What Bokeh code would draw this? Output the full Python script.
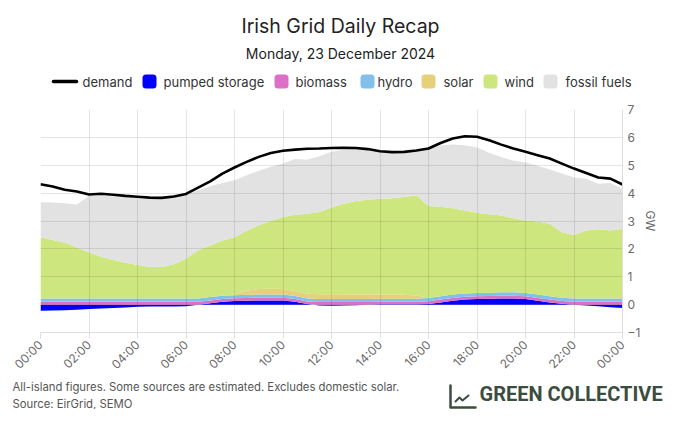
import numpy as np
from bokeh.plotting import figure
from bokeh.layouts import column
from bokeh.models import Range1d, FixedTicker, LinearAxis, Label
from bokeh.embed import file_html
from bokeh.resources import INLINE

# half-hourly timestamps, hours since midnight
hours = [i * 0.5 for i in range(49)]
tick_hours = [0, 2, 4, 6, 8, 10, 12, 14, 16, 18, 20, 22, 24]
tick_labels = ["00:00", "02:00", "04:00", "06:00", "08:00", "10:00", "12:00",
               "14:00", "16:00", "18:00", "20:00", "22:00", "00:00"]
y_ticks = [-1, 0, 1, 2, 3, 4, 5, 6, 7]

# GW
pumped = [-0.22, -0.21, -0.20, -0.18, -0.16, -0.14, -0.12, -0.10, -0.08, -0.07, -0.07, -0.07, -0.06,
          0.00, 0.05, 0.10, 0.13, 0.14, 0.15, 0.15, 0.15, 0.10, 0.02, -0.03, -0.04,
          -0.03, -0.02, 0.00, 0.01, 0.01, 0.01, 0.01, 0.02, 0.08, 0.14, 0.18, 0.20,
          0.21, 0.22, 0.22, 0.20, 0.14, 0.08, 0.03, 0.00, -0.03, -0.06, -0.09, -0.12]
biomass = [0.10, 0.10, 0.10, 0.10, 0.10, 0.10, 0.10, 0.10, 0.10, 0.10, 0.10, 0.10, 0.10,
           0.10, 0.10, 0.10, 0.10, 0.10, 0.10, 0.10, 0.10, 0.10, 0.09, 0.09, 0.09,
           0.09, 0.09, 0.09, 0.09, 0.09, 0.09, 0.09, 0.10, 0.10, 0.10, 0.10, 0.10,
           0.10, 0.10, 0.10, 0.10, 0.10, 0.10, 0.10, 0.10, 0.10, 0.10, 0.10, 0.10]
hydro = [0.12, 0.12, 0.12, 0.12, 0.12, 0.12, 0.12, 0.12, 0.12, 0.12, 0.12, 0.12, 0.12,
         0.12, 0.12, 0.12, 0.11, 0.11, 0.11, 0.11, 0.11, 0.11, 0.11, 0.11, 0.11,
         0.11, 0.11, 0.11, 0.11, 0.11, 0.11, 0.11, 0.12, 0.12, 0.12, 0.12, 0.12,
         0.12, 0.12, 0.12, 0.12, 0.12, 0.12, 0.12, 0.12, 0.12, 0.12, 0.12, 0.12]
solar = [0, 0, 0, 0, 0, 0, 0, 0, 0, 0, 0, 0, 0,
         0, 0, 0, 0.02, 0.15, 0.20, 0.21, 0.20, 0.18, 0.17, 0.17, 0.17,
         0.17, 0.16, 0.16, 0.15, 0.15, 0.14, 0.12, 0.02, 0, 0, 0, 0,
         0, 0, 0, 0, 0, 0, 0, 0, 0, 0, 0, 0]
wind = [2.20, 2.10, 2.00, 1.83, 1.66, 1.50, 1.38, 1.28, 1.20, 1.14, 1.13, 1.23, 1.43,
        1.73, 1.85, 1.98, 2.06, 2.15, 2.29, 2.43, 2.58, 2.73, 2.87, 2.95, 3.11,
        3.25, 3.36, 3.40, 3.44, 3.46, 3.51, 3.59, 3.28, 3.21, 3.10, 2.98, 2.88,
        2.81, 2.76, 2.66, 2.60, 2.62, 2.60, 2.35, 2.28, 2.44, 2.48, 2.44, 2.50]
fossil = [1.25, 1.34, 1.42, 1.54, 2.02, 2.20, 2.28, 2.36, 2.40, 2.44, 2.45, 2.39, 2.33,
          2.15, 2.13, 2.06, 2.04, 1.99, 1.95, 1.95, 1.92, 2.00, 1.94, 2.00, 2.00,
          1.93, 1.86, 1.81, 1.68, 1.62, 1.62, 1.63, 2.08, 2.20, 2.28, 2.34, 2.34,
          2.21, 2.10, 2.06, 2.08, 2.00, 1.95, 2.10, 2.06, 1.86, 1.64, 1.70, 1.44]
demand = [4.32, 4.24, 4.12, 4.06, 3.95, 3.98, 3.94, 3.90, 3.87, 3.84, 3.83, 3.88, 3.97,
          4.20, 4.42, 4.70, 4.92, 5.12, 5.30, 5.44, 5.52, 5.56, 5.59, 5.60, 5.62,
          5.63, 5.62, 5.58, 5.50, 5.47, 5.48, 5.53, 5.60, 5.80, 5.96, 6.04, 6.02,
          5.90, 5.74, 5.60, 5.48, 5.36, 5.24, 5.06, 4.88, 4.72, 4.56, 4.52, 4.31]

series_names = ["pumped storage", "biomass", "hydro", "solar", "wind", "fossil fuels"]
series_colors = ["#0000ff", "#dc6fc6", "#80c0ea", "#e8cf7c", "#cde67e", "#e2e2e2"]

FONT = "Inter"
W = 664


def blank(h):
    f = figure(width=W, height=h, output_backend="svg", toolbar_location=None,
               x_range=Range1d(0, W), y_range=Range1d(h, 0), min_border=0,
               x_axis_location=None, y_axis_location=None)
    f.grid.visible = False
    f.outline_line_color = None
    try:
        f.frame_align = False
    except Exception:
        pass
    return f


def lab(f, x, y, text, size, color, align="left", style="normal", font=FONT):
    f.add_layout(Label(x=x, y=y, text=text, text_font=font, text_font_size=size,
                       text_color=color, text_align=align, text_baseline="middle",
                       text_font_style=style))


# ---------- header: title, subtitle, legend ----------
header = blank(100)
lab(header, 340, 25, "Irish Grid Daily Recap", "19.5px", "#222222", align="center")
lab(header, 340, 53, "Monday, 23 December 2024", "14px", "#222222", align="center")

leg_y = 81
header.line(x=[53, 76], y=[leg_y, leg_y], line_color="black", line_width=3.5, line_cap="round")
lab(header, 82, leg_y, "demand", "13px", "#333333")
swatch_x = [149, 281, 367, 428, 490, 550]
label_x = [163, 295, 377, 443, 504, 565]
header.scatter(x=swatch_x, y=[leg_y] * 6, marker="square", size=7,
               fill_color=series_colors, line_color=series_colors, line_width=7,
               line_join="round")
for sx, name in zip(label_x, series_names):
    lab(header, sx, leg_y, name, "13px", "#333333")

# ---------- main chart ----------
p = figure(width=W, height=280, output_backend="svg", toolbar_location=None,
           x_range=Range1d(0, 24), y_range=Range1d(-1, 7),
           min_border_left=40, min_border_right=42, min_border_top=9, min_border_bottom=48,
           x_axis_location=None, y_axis_location=None)
p.outline_line_color = None

pos = np.maximum(np.array(pumped), 0.0)
r = p.varea(x=hours, y1=np.zeros(len(hours)), y2=pumped, fill_color=series_colors[0])
r.level = "image"
base = pos.copy()
for vals, col in zip([biomass, hydro, solar, wind, fossil], series_colors[1:]):
    top = base + np.array(vals)
    r = p.varea(x=hours, y1=base, y2=top, fill_color=col)
    r.level = "image"
    base = top

p.line(x=hours, y=demand, line_color="black", line_width=2.6)

xaxis = LinearAxis(ticker=FixedTicker(ticks=tick_hours),
                   major_label_overrides={t: l for t, l in zip(tick_hours, tick_labels)})
xaxis.major_label_orientation = np.pi / 4
xaxis.axis_line_color = "#dddddd"
xaxis.major_tick_line_color = "#dddddd"
xaxis.major_tick_out = 6
xaxis.major_tick_in = 0
xaxis.minor_tick_line_color = None
xaxis.major_label_text_font = FONT
xaxis.major_label_text_font_size = "12px"
xaxis.major_label_text_color = "#6a6a6a"
xaxis.major_label_standoff = 4
p.add_layout(xaxis, "below")

yaxis = LinearAxis(ticker=FixedTicker(ticks=y_ticks), axis_label="GW")
yaxis.axis_line_color = "#dddddd"
yaxis.major_tick_line_color = None
yaxis.major_tick_out = 0
yaxis.major_tick_in = 0
yaxis.minor_tick_line_color = None
yaxis.major_label_text_font = FONT
yaxis.major_label_text_font_size = "12px"
yaxis.major_label_text_color = "#6a6a6a"
yaxis.major_label_standoff = 5
yaxis.axis_label_text_font = FONT
yaxis.axis_label_text_font_size = "12px"
yaxis.axis_label_text_font_style = "normal"
yaxis.axis_label_text_color = "#6a6a6a"
yaxis.axis_label_standoff = 0
p.add_layout(yaxis, "right")

p.xgrid.ticker = FixedTicker(ticks=tick_hours)
p.ygrid.ticker = FixedTicker(ticks=y_ticks)
p.grid.grid_line_color = "black"
p.grid.grid_line_alpha = 0.1
p.grid.level = "underlay"

# ---------- footer ----------
footer = blank(29)
lab(footer, 12, 6, "All-island figures. Some sources are estimated. Excludes domestic solar.", "11.3px", "#555555")
lab(footer, 12, 23, "Source: EirGrid, SEMO", "11.3px", "#555555")
lab(footer, 479, 13, "GREEN COLLECTIVE", "20px", "#3b4d3e", style="bold", font="Roboto")
icon_col = "#3b4d3e"
footer.line(x=[450, 450, 475], y=[5, 27, 27], line_color=icon_col, line_width=2.5,
            line_join="round", line_cap="round")
footer.line(x=[455, 459, 462, 468], y=[21, 17, 20, 15], line_color=icon_col, line_width=2,
            line_join="round", line_cap="round")

layout = column(header, p, footer, spacing=0)
open("out.html", "w").write(file_html(layout, INLINE))
